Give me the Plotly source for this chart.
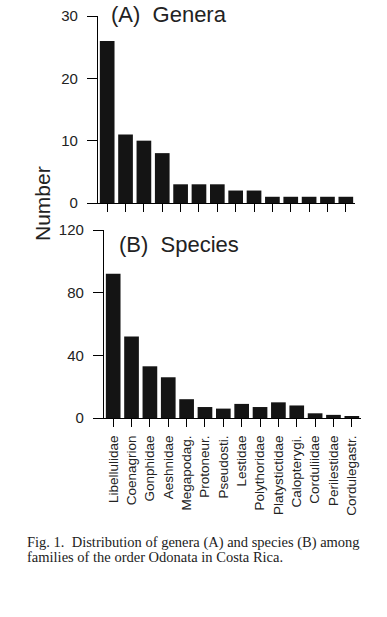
import plotly.graph_objects as go

families = ["Libellulidae", "Coenagrion", "Gonphidae", "Aeshnidae", "Megapodag.",
            "Protoneur.", "Pseudosti.", "Lestidae", "Polythoridae", "Platystictidae",
            "Calopterygi.", "Corduliidae", "Perilestidae", "Cordulegastr."]
genera = [26, 11, 10, 8, 3, 3, 3, 2, 2, 1, 1, 1, 1, 1]
species = [92, 52, 33, 26, 12, 7, 6, 9, 7, 10, 8, 3, 2, 1]
genera_ticks = [0, 10, 20, 30]
species_ticks = [0, 40, 80, 120]

W, H = 387, 617
def px(x): return x / W
def py(y): return 1 - y / H

SANS = "Liberation Sans, Arial, Helvetica, sans-serif"
SERIF = "Liberation Serif, Times New Roman, serif"
BAR = "#141414"

fig = go.Figure()
fig.add_trace(go.Bar(x=families, y=genera, marker=dict(color=BAR, line=dict(width=0)),
                     xaxis="x", yaxis="y", showlegend=False))
fig.add_trace(go.Bar(x=families, y=species, marker=dict(color=BAR, line=dict(width=0)),
                     xaxis="x2", yaxis="y2", showlegend=False))

axis_common = dict(showline=True, linecolor="black", linewidth=1.3, showgrid=False,
                   zeroline=False, ticks="outside", tickcolor="black", tickwidth=1.3,
                   automargin=False)

fig.update_layout(
    template="none",
    width=W, height=H,
    margin=dict(l=0, r=0, t=0, b=0, pad=0, autoexpand=False),
    paper_bgcolor="white", plot_bgcolor="white",
    bargap=0.2,
    xaxis=dict(domain=[px(98), px(355)], anchor="y", showticklabels=False,
               ticklen=8, **axis_common),
    yaxis=dict(domain=[py(203), py(16)], anchor="x", range=[0, 30],
               tickvals=genera_ticks, ticklen=10, ticklabelstandoff=6,
               ticklabeloverflow="allow",
               tickfont=dict(family=SANS, size=15, color="#222"), **axis_common),
    xaxis2=dict(domain=[px(104), px(361)], anchor="y2", tickangle=-90,
                ticklen=8, ticklabelstandoff=3,
                tickfont=dict(family=SANS, size=13.5, color="#222"), **axis_common),
    yaxis2=dict(domain=[py(418), py(230)], anchor="x2", range=[0, 120],
                tickvals=species_ticks, ticklen=10, ticklabelstandoff=6,
                ticklabeloverflow="allow",
                tickfont=dict(family=SANS, size=15, color="#222"), **axis_common),
)

fig.add_annotation(text="(A)  Genera", x=px(109), y=py(14), xref="paper", yref="paper",
                   xanchor="left", yanchor="middle", showarrow=False,
                   font=dict(family=SANS, size=22, color="#222"))
fig.add_annotation(text="(B)  Species", x=px(117), y=py(244), xref="paper", yref="paper",
                   xanchor="left", yanchor="middle", showarrow=False,
                   font=dict(family=SANS, size=22, color="#222"))
fig.add_annotation(text="Number", x=px(43), y=py(204), xref="paper", yref="paper",
                   xanchor="center", yanchor="middle", textangle=-90, showarrow=False,
                   font=dict(family=SANS, size=21, color="#222"))
fig.add_annotation(text="Fig. 1.  Distribution of genera (A) and species (B) among",
                   x=px(25), y=py(542), xref="paper", yref="paper",
                   xanchor="left", yanchor="middle", showarrow=False,
                   font=dict(family=SERIF, size=14.5, color="#222"))
fig.add_annotation(text="families of the order Odonata in Costa Rica.",
                   x=px(25), y=py(556.5), xref="paper", yref="paper",
                   xanchor="left", yanchor="middle", showarrow=False,
                   font=dict(family=SERIF, size=14.5, color="#222"))

fig.write_html("out.html", config={"displayModeBar": False},
               post_script="document.body.style.margin='0px';")
